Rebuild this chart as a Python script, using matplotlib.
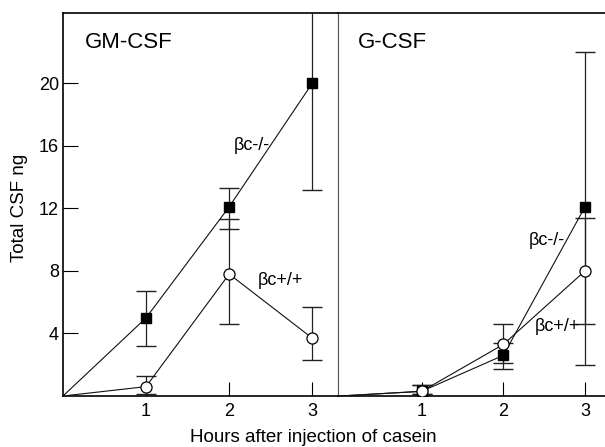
import matplotlib
matplotlib.use("Agg")
import matplotlib.pyplot as plt
import numpy as np

plt.rcParams['font.family'] = ['Liberation Sans', 'DejaVu Sans']

hours = [0, 1, 2, 3]

# GM-CSF panel
gm_ko = [0, 5.0, 12.1, 20.0]          # βc-/-
gm_ko_lo = [0, 3.2, 10.7, 13.15]
gm_ko_hi = [0, 6.7, 13.3, 26.8]
gm_wt = [0, 0.6, 7.8, 3.7]            # βc+/+
gm_wt_lo = [0, 0.1, 4.6, 2.3]
gm_wt_hi = [0, 1.25, 11.3, 5.7]

# G-CSF panel
g_ko = [0, 0.3, 2.6, 12.1]
g_ko_lo = [0, 0.1, 1.75, 2.0]
g_ko_hi = [0, 0.7, 3.4, 22.0]
g_wt = [0, 0.3, 3.3, 8.0]
g_wt_lo = [0, 0.1, 2.1, 4.6]
g_wt_hi = [0, 0.7, 4.6, 11.4]

yticks = [4, 8, 12, 16, 20]
xticks = [1, 2, 3]

fig = plt.figure(figsize=(6.05, 4.47), dpi=100)
axL = fig.add_axes([63/605, 1-396/447, (338-63)/605, (396-13)/447])
axR = fig.add_axes([338/605, 1-396/447, (605-338)/605, (396-13)/447])

def draw(ax, ko, ko_lo, ko_hi, wt, wt_lo, wt_hi):
    ko = np.array(ko); wt = np.array(wt)
    ko_err = [ko - np.array(ko_lo), np.array(ko_hi) - ko]
    wt_err = [wt - np.array(wt_lo), np.array(wt_hi) - wt]
    ax.errorbar(hours[1:], ko[1:], yerr=[e[1:] for e in ko_err], fmt='none',
                ecolor='#222222', elinewidth=0.9, capsize=7, capthick=1.0, zorder=2)
    ax.errorbar(hours[1:], wt[1:], yerr=[e[1:] for e in wt_err], fmt='none',
                ecolor='#222222', elinewidth=0.9, capsize=7, capthick=1.0, zorder=2)
    ax.plot(hours, ko, color='#111111', lw=0.8, zorder=3)
    ax.plot(hours, wt, color='#111111', lw=0.8, zorder=3)
    ax.plot(hours[1:], ko[1:], 's', ms=6.5, mfc='black', mec='black', zorder=4)
    ax.plot(hours[1:], wt[1:], 'o', ms=8, mfc='white', mec='black', mew=0.9, zorder=5)
    ax.set_ylim(0, 24.5)
    ax.set_xticks(xticks)
    ax.tick_params(axis='x', direction='in', length=10, width=0.8, pad=5, labelsize=13)
    for s in ax.spines.values():
        s.set_linewidth(1.2)

draw(axL, gm_ko, gm_ko_lo, gm_ko_hi, gm_wt, gm_wt_lo, gm_wt_hi)
draw(axR, g_ko, g_ko_lo, g_ko_hi, g_wt, g_wt_lo, g_wt_hi)

axL.set_xlim(0, 3.31)
axR.set_xlim(-0.025, 3.245)

axL.set_yticks(yticks)
axL.tick_params(axis='y', direction='in', length=11, width=0.8, pad=3, labelsize=13)
axR.set_yticks([])
axR.spines['right'].set_visible(False)
axR.spines['left'].set_linewidth(0.8)
axR.spines['left'].set_color('#555555')
axL.spines['right'].set_linewidth(0.8)
axL.spines['right'].set_color('#555555')

axL.text(0.265, 22.6, 'GM-CSF', fontsize=16, va='center', ha='left')
axR.text(0.22, 22.6, 'G-CSF', fontsize=16, va='center', ha='left')

axL.text(2.05, 16.0, 'βc-/-', fontsize=13, va='center', ha='left')
axL.text(2.34, 7.4, 'βc+/+', fontsize=13, va='center', ha='left')
axR.text(2.31, 9.96, 'βc-/-', fontsize=13, va='center', ha='left')
axR.text(2.38, 4.44, 'βc+/+', fontsize=13, va='center', ha='left')

fig.text(20/605, 1-208/447, 'Total CSF ng', fontsize=13.5, rotation=90,
         ha='center', va='center')
fig.text(313/605, 1-437/447, 'Hours after injection of casein', fontsize=13.5,
         ha='center', va='center')

fig.savefig('out.png', dpi=100)
